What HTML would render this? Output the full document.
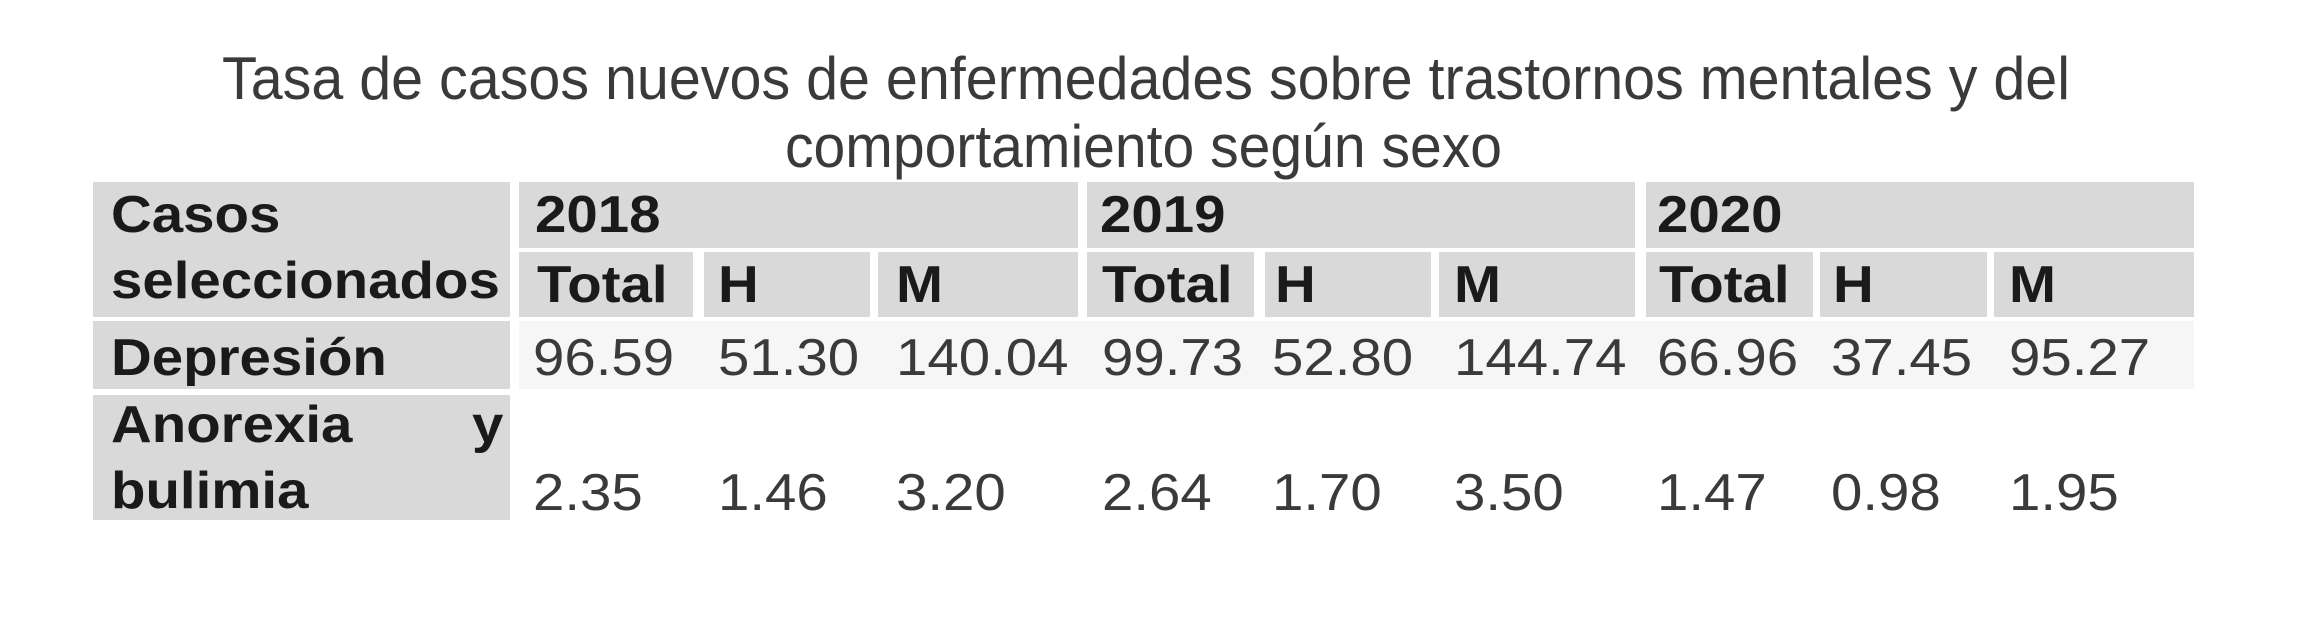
<!DOCTYPE html>
<html><head><meta charset="utf-8"><style>
html,body{margin:0;padding:0;background:#fff;}
svg{display:block;}
text{font-family:"Liberation Sans",Arial,sans-serif;}
.b{font-weight:bold;fill:#1a1a1a;font-size:52px;}
.r{fill:#3a3a3a;font-size:52px;}
</style></head><body>
<svg width="2313" height="620" viewBox="0 0 2313 620" xmlns="http://www.w3.org/2000/svg">
<rect width="2313" height="620" fill="#fff"/>
<text x="222" y="99" font-size="60" fill="#3a3a3a" textLength="1848" lengthAdjust="spacingAndGlyphs">Tasa de casos nuevos de enfermedades sobre trastornos mentales y del</text>
<text x="785" y="167" font-size="60" fill="#3a3a3a" textLength="717" lengthAdjust="spacingAndGlyphs">comportamiento según sexo</text>
<g fill="#d9d9d9">
<rect x="93" y="182" width="417" height="135"/>
<rect x="519" y="182" width="559" height="66"/>
<rect x="1087" y="182" width="548" height="66"/>
<rect x="1646" y="182" width="548" height="66"/>
<rect x="519" y="252" width="174" height="65"/>
<rect x="704" y="252" width="166" height="65"/>
<rect x="878" y="252" width="200" height="65"/>
<rect x="1087" y="252" width="167" height="65"/>
<rect x="1265" y="252" width="166" height="65"/>
<rect x="1439" y="252" width="196" height="65"/>
<rect x="1646" y="252" width="167" height="65"/>
<rect x="1820" y="252" width="167" height="65"/>
<rect x="1994" y="252" width="200" height="65"/>
<rect x="93" y="321" width="417" height="68"/>
<rect x="93" y="395" width="417" height="125"/>
</g>
<rect x="519" y="321" width="1675" height="68" fill="#f6f6f6"/>
<g class="b">
<text transform="translate(111,232) scale(1.085,1)">Casos</text>
<text transform="translate(111,298) scale(1.085,1)">seleccionados</text>
<text transform="translate(111,375) scale(1.085,1)">Depresión</text>
<text transform="translate(111,442) scale(1.085,1)">Anorexia</text>
<text transform="translate(472,442) scale(1.085,1)">y</text>
<text transform="translate(111,508) scale(1.085,1)">bulimia</text>
<text transform="translate(535,232) scale(1.085,1)">2018</text>
<text transform="translate(1100,232) scale(1.085,1)">2019</text>
<text transform="translate(1657,232) scale(1.085,1)">2020</text>
<text transform="translate(537,302) scale(1.085,1)">Total</text>
<text transform="translate(718,302) scale(1.085,1)">H</text>
<text transform="translate(896,302) scale(1.085,1)">M</text>
<text transform="translate(1102,302) scale(1.085,1)">Total</text>
<text transform="translate(1275,302) scale(1.085,1)">H</text>
<text transform="translate(1454,302) scale(1.085,1)">M</text>
<text transform="translate(1659,302) scale(1.085,1)">Total</text>
<text transform="translate(1833,302) scale(1.085,1)">H</text>
<text transform="translate(2009,302) scale(1.085,1)">M</text>
</g>
<g class="r">
<text transform="translate(533,375) scale(1.085,1)">96.59</text>
<text transform="translate(718,375) scale(1.085,1)">51.30</text>
<text transform="translate(896,375) scale(1.085,1)">140.04</text>
<text transform="translate(1102,375) scale(1.085,1)">99.73</text>
<text transform="translate(1272,375) scale(1.085,1)">52.80</text>
<text transform="translate(1454,375) scale(1.085,1)">144.74</text>
<text transform="translate(1657,375) scale(1.085,1)">66.96</text>
<text transform="translate(1831,375) scale(1.085,1)">37.45</text>
<text transform="translate(2009,375) scale(1.085,1)">95.27</text>
<text transform="translate(533,510) scale(1.085,1)">2.35</text>
<text transform="translate(718,510) scale(1.085,1)">1.46</text>
<text transform="translate(896,510) scale(1.085,1)">3.20</text>
<text transform="translate(1102,510) scale(1.085,1)">2.64</text>
<text transform="translate(1272,510) scale(1.085,1)">1.70</text>
<text transform="translate(1454,510) scale(1.085,1)">3.50</text>
<text transform="translate(1657,510) scale(1.085,1)">1.47</text>
<text transform="translate(1831,510) scale(1.085,1)">0.98</text>
<text transform="translate(2009,510) scale(1.085,1)">1.95</text>
</g>
</svg>
</body></html>
